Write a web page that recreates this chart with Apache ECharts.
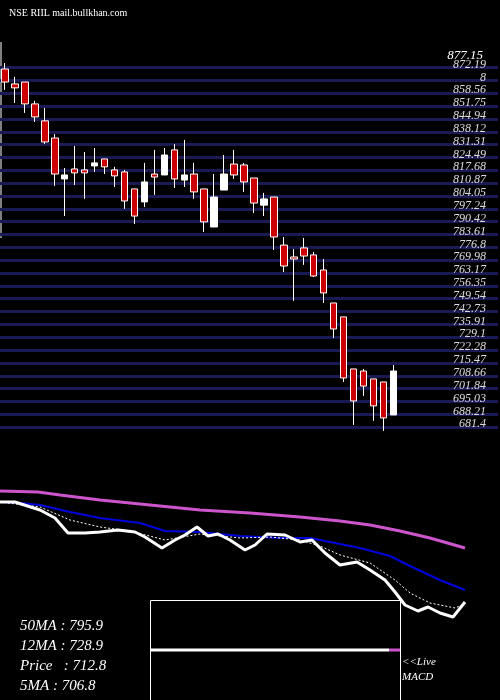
<!DOCTYPE html>
<html>
<head>
<meta charset="utf-8">
<title>RIIL</title>
<script src="https://cdn.jsdelivr.net/npm/echarts@6/dist/echarts.min.js"></script>
<style>
  html, body { margin:0; padding:0; background:#000; }
  #main { width:500px; height:700px; }
</style>
</head>
<body>
<div id="main"></div>
<script type="text/javascript">
// daily candles: open, close, low, high
var opens  = [868.1,860.2,861.2,849.6,840.6,831.5,809.8,815.1,814.6,816.7,820.4,814.6,813.5,804.5,797.6,812.4,811.9,825.2,809.2,812.4,
              804.5,784.3,803.9,817.7,817.2,810.3,795.9,800.2,774.7,768.4,773.2,769.5,761.5,744.0,736.6,709.0,707.9,703.7,702.1,684.6];
var closes = [861.2,858.1,849.6,842.7,829.4,812.4,811.9,813.0,813.0,818.3,816.2,811.4,798.1,790.1,808.2,810.8,822.5,809.8,811.9,802.9,
              787.0,800.2,812.4,811.9,808.2,797.0,799.2,779.0,763.6,767.3,768.9,758.3,749.3,730.2,704.2,692.0,699.9,689.4,683.0,707.9];
var lows   = [857.0,850.1,844.8,840.0,828.4,806.1,790.1,806.6,799.2,813.5,812.4,805.5,793.9,785.9,794.9,801.3,811.9,805.0,805.5,799.2,
              781.7,784.3,803.9,809.8,802.9,791.7,790.1,772.1,760.4,745.1,764.2,757.8,744.0,725.4,702.1,679.3,694.7,681.4,676.1,684.6];
var highs  = [871.3,863.9,861.2,851.2,847.5,833.6,815.6,827.3,824.1,826.2,820.4,816.2,814.6,804.5,818.3,825.2,826.2,828.3,830.5,818.3,
              804.5,812.4,822.5,825.2,818.3,810.3,802.4,800.2,779.0,772.6,778.5,771.1,767.3,744.0,736.6,709.0,709.0,703.7,702.1,711.1];

// price levels shown on the right
var levelLabels = ['872.19','8','858.56','851.75','844.94','838.12','831.31','824.49','817.68','810.87','804.05','797.24','790.42',
                   '783.61','776.8','769.98','763.17','756.35','749.54','742.73','735.91','729.1','722.28','715.47','708.66',
                   '701.84','695.03','688.21','681.4'];
var levelValues = [872.19,865.37,858.56,851.75,844.94,838.12,831.31,824.49,817.68,810.87,804.05,797.24,790.42,
                   783.61,776.8,769.98,763.17,756.35,749.54,742.73,735.91,729.1,722.28,715.47,708.66,
                   701.84,695.03,688.21,681.4];
var topPrice = '877.15';

// lower panel averages (x position along panel, level)
var ma50x = [0,38,60,100,150,200,250,300,340,370,400,430,465];
var ma50y = [209,208,205,200,195,190,187,183,179,175,169,162,152];
var ma20x = [0,20,40,70,100,140,165,200,240,280,310,330,360,390,410,440,465];
var ma20y = [198,197,195,188,182,177,169,168,164,162,162,158,152,144,134,120,110];
var ma5x  = [0,15,40,55,68,85,100,118,135,145,162,175,185,197,208,218,230,245,255,267,285,300,312,325,340,357,370,385,395,405,418,428,440,453,465];
var ma5y  = [198,198,190,182,167,167,168,170,168,163,152,160,165,173,164,166,160,150,155,166,165,158,160,147,135,138,130,120,108,95,89,93,87,83,98];
var ma12x = [0,40,70,100,130,165,200,240,270,300,320,340,370,395,410,430,455,465];
var ma12y = [198,193,180,173,169,160,166,162,163,160,154,145,137,120,107,97,92,96];

var cats = [];
for (var i = 0; i < 50; i++) cats.push(i);
var ohlc = opens.map(function (o, i) { return [o, closes[i], lows[i], highs[i]]; });
var serif = 'Liberation Serif';

var chart = echarts.init(document.getElementById('main'));
var option = {
    backgroundColor: '#000',
    animation: false,
    grid: [
        { left: -2, top: 40, width: 500, height: 400 },
        { left: 0, top: 480, width: 500, height: 150 }
    ],
    xAxis: [
        { type: 'category', data: cats, gridIndex: 0, show: false },
        { type: 'value', gridIndex: 1, min: 0, max: 500, show: false }
    ],
    yAxis: [
        { type: 'value', gridIndex: 0, min: 671.3, max: 883.5, show: false },
        { type: 'value', gridIndex: 1, min: 70, max: 220, show: false }
    ],
    title: [
        { text: 'NSE RIIL mail.bullkhan.com', left: 4, top: 3,
          textStyle: { color: '#fff', fontFamily: serif, fontSize: 10, fontWeight: 'normal' } },
        { text: topPrice, right: 12, top: 44,
          textStyle: { color: '#fff', fontFamily: serif, fontStyle: 'italic', fontSize: 13, fontWeight: 'normal' } }
    ],
    series: [
        {
            type: 'candlestick', xAxisIndex: 0, yAxisIndex: 0, data: ohlc, barWidth: 7,
            itemStyle: { color: '#fff', color0: '#cc0000', borderColor: '#fff', borderColor0: '#fff', borderWidth: 1 },
            markLine: {
                silent: true, symbol: 'none', z: 1,
                lineStyle: { color: '#1a1a55', width: 3, type: 'solid' },
                label: { show: true, position: 'insideEndTop', distance: [12, -3], color: '#ddd',
                         fontFamily: serif, fontStyle: 'italic', fontSize: 12 },
                data: levelValues.map(function (v, i) {
                    return { yAxis: v - 3.3, label: { formatter: levelLabels[i] } };
                })
            },
            z: 3
        },
        { type: 'line', xAxisIndex: 1, yAxisIndex: 1, symbol: 'none',
          data: ma50x.map(function (x, i) { return [x, ma50y[i]]; }),
          lineStyle: { color: '#cc55cc', width: 3 } },
        { type: 'line', xAxisIndex: 1, yAxisIndex: 1, symbol: 'none',
          data: ma20x.map(function (x, i) { return [x, ma20y[i]]; }),
          lineStyle: { color: '#0000dd', width: 2 } },
        { type: 'line', xAxisIndex: 1, yAxisIndex: 1, symbol: 'none',
          data: ma12x.map(function (x, i) { return [x, ma12y[i]]; }),
          lineStyle: { color: '#fff', width: 1, type: [2, 2] } },
        { type: 'line', xAxisIndex: 1, yAxisIndex: 1, symbol: 'none',
          data: ma5x.map(function (x, i) { return [x, ma5y[i]]; }),
          lineStyle: { color: '#fff', width: 3 } }
    ],
    graphic: [
        { type: 'line', shape: { x1: 1, y1: 42, x2: 1, y2: 238 }, style: { stroke: '#fff', lineWidth: 1 } },
        { type: 'rect', shape: { x: 150.5, y: 600.5, width: 250, height: 110 }, style: { fill: 'none', stroke: '#fff', lineWidth: 1 } },
        { type: 'line', shape: { x1: 151, y1: 650, x2: 389, y2: 650 }, style: { stroke: '#fff', lineWidth: 3 } },
        { type: 'line', shape: { x1: 389, y1: 650, x2: 400, y2: 650 }, style: { stroke: '#cc55cc', lineWidth: 3 } },
        { type: 'text', left: 402, top: 655, style: { text: '<<Live\nMACD', fill: '#fff', font: 'italic 11px "Liberation Serif"', lineHeight: 15 } },
        { type: 'text', left: 20, top: 616, style: { text: '50MA : 795.9\n12MA : 728.9\nPrice   : 712.8\n5MA : 706.8',
          fill: '#fff', font: 'italic 15px "Liberation Serif"', lineHeight: 20 } }
    ]
};
chart.setOption(option);
</script>
</body>
</html>
